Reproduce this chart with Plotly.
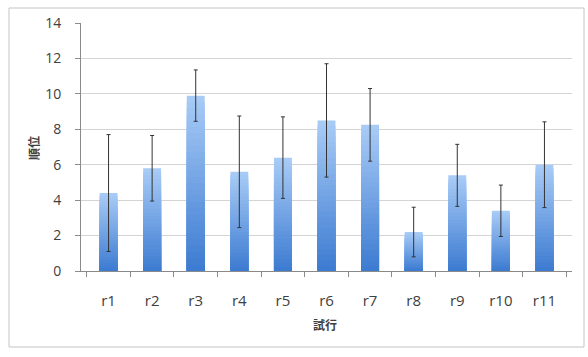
import plotly.graph_objects as go

categories = ["r1", "r2", "r3", "r4", "r5", "r6", "r7", "r8", "r9", "r10", "r11"]
means = [4.4, 5.8, 9.9, 5.6, 6.4, 8.5, 8.25, 2.2, 5.4, 3.4, 6.0]
errors = [3.3, 1.85, 1.45, 3.15, 2.3, 3.2, 2.05, 1.4, 1.75, 1.45, 2.42]
y_ticks = [0, 2, 4, 6, 8, 10, 12, 14]

W, H = 588, 357
L, R, T, B = 81, 16, 23, 86
pw, ph = W - L - R, H - T - B

light = (168, 203, 246)
dark = (58, 121, 208)
N = 28

fig = go.Figure()
for k in range(N):
    f = (N - k) / N
    c = tuple(int(round(dark[i] + (light[i] - dark[i]) * f)) for i in range(3))
    fig.add_trace(go.Bar(
        x=categories, y=[m * f for m in means],
        marker=dict(color=f"rgb{c}", line=dict(width=0)),
        width=0.41, hoverinfo="skip", showlegend=False,
    ))

fig.add_trace(go.Scatter(
    x=categories, y=means, mode="markers",
    marker=dict(size=1, opacity=0),
    error_y=dict(type="data", array=errors, visible=True,
                 color="#333333", thickness=1, width=2),
    showlegend=False, hoverinfo="skip",
))

font = "Open Sans, Noto Sans CJK JP, sans-serif"
fig.update_layout(
    width=W, height=H,
    margin=dict(l=L, r=R, t=T, b=B),
    paper_bgcolor="white", plot_bgcolor="white",
    barmode="overlay",
    font=dict(family=font, size=14, color="#404040"),
    xaxis=dict(
        showgrid=False, showline=True, linecolor="#8a8a8a", linewidth=1,
        ticks="outside", tickson="boundaries", ticklen=5, tickcolor="#8a8a8a",
        ticklabelstandoff=16, tickfont=dict(size=15, color="#404040"),
    ),
    yaxis=dict(
        range=[0, 14], tickvals=y_ticks, showgrid=True, gridcolor="#d4d4d4",
        gridwidth=1, showline=True, linecolor="#8a8a8a", linewidth=1,
        ticks="outside", ticklen=5, tickcolor="#8a8a8a", zeroline=False,
        ticklabelstandoff=11, tickfont=dict(size=14, color="#404040"),
    ),
    shapes=[dict(
        type="rect", xref="paper", yref="paper",
        x0=(9 - L) / pw, x1=(584 - L) / pw,
        y0=(H - B - 347) / ph, y1=(H - B - 8) / ph,
        line=dict(color="#c4c4c4", width=1), layer="below",
    )],
    annotations=[
        dict(text="<b>順位</b>", xref="paper", yref="paper",
             x=(33 - L) / pw, y=(H - B - 148) / ph, showarrow=False,
             xanchor="center", yanchor="middle",
             textangle=-90, font=dict(size=12, color="#404040",
                                      family="Noto Sans CJK JP")),
        dict(text="<b>試行</b>", xref="paper", yref="paper",
             x=(325 - L) / pw, y=(H - B - 324) / ph, showarrow=False,
             xanchor="center", yanchor="middle",
             font=dict(size=12, color="#404040", family="Noto Sans CJK JP")),
    ],
)

fig.write_html("out.html")
